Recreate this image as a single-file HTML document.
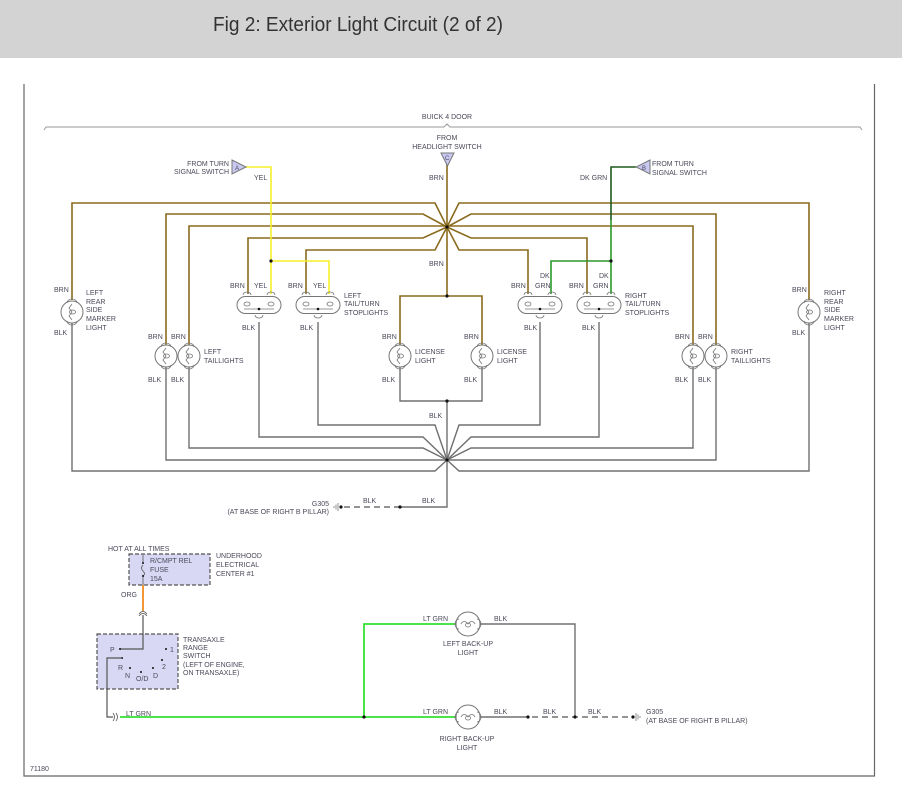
<!DOCTYPE html>
<html><head><meta charset="utf-8"><style>
html,body{margin:0;padding:0;background:#fff;width:902px;height:791px;overflow:hidden}
svg text{font-family:"Liberation Sans",sans-serif;font-size:7px;fill:#4a4a5a}
</style></head><body>
<svg width="902" height="791" viewBox="0 0 902 791" xmlns="http://www.w3.org/2000/svg">
<defs>
<g id="bulb">
<circle r="11" fill="#fff" stroke="#777" stroke-width="1"/>
<path d="M-5,-9 A5,4 0 0 1 5,-9 M-5,9 A5,4 0 0 0 5,9" fill="none" stroke="#777" stroke-width="0.8"/>
<path d="M0,-8 L-3,-4 L0,0 L-3,4 L0,8" fill="none" stroke="#777" stroke-width="0.8"/>
<ellipse cx="0.5" cy="0" rx="3" ry="2" fill="none" stroke="#777" stroke-width="0.8"/>
</g>
<g id="dual">
<rect x="-22" y="-8.5" width="44" height="17" rx="8.5" fill="#fff" stroke="#777" stroke-width="1"/>
<path d="M-16,-10 A4,3 0 0 1 -8,-10 M8,-10 A4,3 0 0 1 16,-10 M-4,10 A4,3 0 0 0 4,10" fill="none" stroke="#777" stroke-width="0.8"/>
<ellipse cx="-12" cy="-1" rx="3" ry="2" fill="none" stroke="#777" stroke-width="0.8"/>
<ellipse cx="12" cy="-1" rx="3" ry="2" fill="none" stroke="#777" stroke-width="0.8"/>
<path d="M-15,4 L15,4" stroke="#777" stroke-width="0.8"/>
<circle cx="0" cy="4" r="1.3" fill="#111"/>
</g>
<g id="hbulb">
<circle r="12" fill="#fff" stroke="#777" stroke-width="1"/>
<path d="M-9,-5 A4,5 0 0 0 -9,5 M9,-5 A4,5 0 0 1 9,5" fill="none" stroke="#777" stroke-width="0.8"/>
<path d="M-7,0 Q-4,-5 0,0 Q4,-5 7,0" fill="none" stroke="#777" stroke-width="0.8"/>
<ellipse cx="0" cy="1" rx="2.5" ry="2" fill="none" stroke="#777" stroke-width="0.8"/>
</g>
</defs>

<rect x="0" y="0" width="902" height="58" fill="#d3d3d3"/>
<text x="213" y="31" style="font-size:20px;fill:#333" textLength="290" lengthAdjust="spacingAndGlyphs">Fig 2: Exterior Light Circuit (2 of 2)</text>

<path d="M24,84 V776 H874.5 V84" fill="none" stroke="#666" stroke-width="1.2"/>
<path d="M44,130 L46,127 H444 L447,124 L450,127 H860 L862,130" fill="none" stroke="#999" stroke-width="1"/>
<text x="447" y="119" text-anchor="middle">BUICK 4 DOOR</text>

<g fill="none" stroke="#8a6a1e" stroke-width="1.6">
<path d="M447,164 V296"/>
<path d="M72,300 V203 H435 L447,227"/>
<path d="M166,345 V214 H423 L447,227"/>
<path d="M189,345 V226 H447"/>
<path d="M248,294 V238 H423 L447,227"/>
<path d="M306,294 V250 H435 L447,227"/>
<path d="M809,300 V203 H459 L447,227"/>
<path d="M716,345 V214 H471 L447,227"/>
<path d="M693,345 V226 H447"/>
<path d="M587,294 V238 H471 L447,227"/>
<path d="M528,294 V250 H459 L447,227"/>
<path d="M400,345 V296 H482 V345"/>
</g>
<path d="M246,167 H271 V294 M271,261 H329 V294" fill="none" stroke="#f5f02a" stroke-width="1.6"/>
<path d="M636,167 H611 V220" fill="none" stroke="#1d5a1d" stroke-width="1.6"/>
<path d="M611,220 V294 M611,261 H551 V294" fill="none" stroke="#2a9a2a" stroke-width="1.6"/>

<g fill="none" stroke="#707070" stroke-width="1.4">
<path d="M72,323 V471 H435 L447,460"/>
<path d="M166,367 V460 H447"/>
<path d="M189,367 V448 H423 L447,460"/>
<path d="M259,322 V437 H423 L447,460"/>
<path d="M318,322 V425 H435 L447,460"/>
<path d="M809,323 V471 H459 L447,460"/>
<path d="M716,367 V460 H447"/>
<path d="M693,367 V448 H471 L447,460"/>
<path d="M599,322 V437 H471 L447,460"/>
<path d="M540,322 V425 H459 L447,460"/>
<path d="M400,367 V401 H482 V367"/>
<path d="M447,401 V507 H400"/>
<path d="M400,507 H340" stroke-dasharray="6,4"/>
</g>
<g fill="#111">
<circle cx="447" cy="227" r="1.6"/><circle cx="447" cy="296" r="1.6"/><circle cx="271" cy="261" r="1.6"/><circle cx="611" cy="261" r="1.6"/>
<circle cx="447" cy="401" r="1.6"/><circle cx="447" cy="460" r="1.6"/><circle cx="400" cy="507" r="1.6"/><circle cx="341" cy="507" r="1.6"/>
</g>
<path d="M338,503 V511 M336,504.5 V509.5 M334,506 V508" stroke="#777" stroke-width="0.8"/>

<path d="M232,160 L246,167 L232,174 Z" fill="#c8c8f0" stroke="#777"/>
<text x="235" y="170" style="font-size:6px">A</text>
<path d="M441,153 L454,153 L447.5,166 Z" fill="#c8c8f0" stroke="#777"/>
<text x="445" y="160" style="font-size:6px">C</text>
<path d="M650,160 L636,167 L650,174 Z" fill="#c8c8f0" stroke="#777"/>
<text x="642" y="170" style="font-size:6px">B</text>

<use href="#bulb" x="72" y="312"/><use href="#bulb" x="809" y="312"/>
<use href="#bulb" x="166" y="356"/><use href="#bulb" x="189" y="356"/>
<use href="#bulb" x="693" y="356"/><use href="#bulb" x="716" y="356"/>
<use href="#bulb" x="400" y="356"/><use href="#bulb" x="482" y="356"/>
<use href="#dual" x="259" y="305"/><use href="#dual" x="318" y="305"/>
<use href="#dual" x="540" y="305"/><use href="#dual" x="599" y="305"/>

<text x="447" y="140" text-anchor="middle">FROM</text>
<text x="447" y="149" text-anchor="middle">HEADLIGHT SWITCH</text>
<text x="229" y="166" text-anchor="end">FROM TURN</text>
<text x="229" y="174" text-anchor="end">SIGNAL SWITCH</text>
<text x="254" y="180">YEL</text>
<text x="429" y="180">BRN</text>
<text x="429" y="266">BRN</text>
<text x="580" y="180">DK GRN</text>
<text x="652" y="166">FROM TURN</text>
<text x="652" y="175">SIGNAL SWITCH</text>

<text x="54" y="292">BRN</text><text x="54" y="335">BLK</text>
<text x="86" y="295">LEFT</text><text x="86" y="304">REAR</text><text x="86" y="312">SIDE</text><text x="86" y="321">MARKER</text><text x="86" y="330">LIGHT</text>
<text x="148" y="339">BRN</text><text x="171" y="339">BRN</text>
<text x="148" y="382">BLK</text><text x="171" y="382">BLK</text>
<text x="204" y="354">LEFT</text><text x="204" y="363">TAILLIGHTS</text>
<text x="230" y="288">BRN</text><text x="254" y="288">YEL</text>
<text x="288" y="288">BRN</text><text x="313" y="288">YEL</text>
<text x="242" y="330">BLK</text><text x="300" y="330">BLK</text>
<text x="344" y="298">LEFT</text><text x="344" y="306">TAIL/TURN</text><text x="344" y="315">STOPLIGHTS</text>
<text x="382" y="339">BRN</text><text x="382" y="382">BLK</text>
<text x="415" y="354">LICENSE</text><text x="415" y="363">LIGHT</text>
<text x="464" y="339">BRN</text><text x="464" y="382">BLK</text>
<text x="497" y="354">LICENSE</text><text x="497" y="363">LIGHT</text>
<text x="429" y="418">BLK</text>
<text x="511" y="288">BRN</text>
<text x="540" y="278">DK</text><text x="535" y="288">GRN</text>
<text x="569" y="288">BRN</text>
<text x="599" y="278">DK</text><text x="593" y="288">GRN</text>
<text x="524" y="330">BLK</text><text x="582" y="330">BLK</text>
<text x="625" y="298">RIGHT</text><text x="625" y="306">TAIL/TURN</text><text x="625" y="315">STOPLIGHTS</text>
<text x="675" y="339">BRN</text><text x="698" y="339">BRN</text>
<text x="675" y="382">BLK</text><text x="698" y="382">BLK</text>
<text x="731" y="354">RIGHT</text><text x="731" y="363">TAILLIGHTS</text>
<text x="792" y="292">BRN</text><text x="792" y="335">BLK</text>
<text x="824" y="295">RIGHT</text><text x="824" y="304">REAR</text><text x="824" y="312">SIDE</text><text x="824" y="321">MARKER</text><text x="824" y="330">LIGHT</text>

<text x="329" y="506" text-anchor="end">G305</text>
<text x="329" y="514" text-anchor="end">(AT BASE OF RIGHT B PILLAR)</text>
<text x="363" y="503">BLK</text><text x="422" y="503">BLK</text>

<text x="108" y="551">HOT AT ALL TIMES</text>
<rect x="129" y="554" width="81" height="31" fill="#d8d8f4" stroke="#555" stroke-width="1.2" stroke-dasharray="4,2"/>
<text x="150" y="563">R/CMPT REL</text><text x="150" y="572">FUSE</text><text x="150" y="581">15A</text>
<text x="216" y="558">UNDERHOOD</text><text x="216" y="567">ELECTRICAL</text><text x="216" y="576">CENTER #1</text>
<path d="M143,555 V563 M143,565 Q140,568 143,571 Q146,574 143,576 M143,576 V585" fill="none" stroke="#555" stroke-width="0.8"/>
<circle cx="143" cy="563" r="1" fill="#111"/><circle cx="143" cy="576" r="1" fill="#111"/>
<path d="M143,585 V611" stroke="#f08a20" stroke-width="1.8"/>
<text x="121" y="597">ORG</text>
<path d="M139,614 Q143,609 147,614 M139,616 Q143,611 147,616" fill="none" stroke="#555" stroke-width="0.8"/>
<rect x="97" y="634" width="81" height="55" fill="#d8d8f4" stroke="#555" stroke-width="1.2" stroke-dasharray="4,2"/>
<path d="M143,615 V649 H120" fill="none" stroke="#555" stroke-width="1.2"/>
<text x="110" y="652">P</text><text x="170" y="652">1</text>
<circle cx="120" cy="649" r="1" fill="#111"/><circle cx="166" cy="649" r="1" fill="#111"/>
<text x="118" y="670">R</text><text x="125" y="678">N</text><text x="136" y="681">O/D</text><text x="153" y="678">D</text><text x="162" y="669">2</text>
<circle cx="122" cy="658" r="1" fill="#111"/><circle cx="130" cy="668" r="1" fill="#111"/><circle cx="141" cy="672" r="1" fill="#111"/><circle cx="153" cy="668" r="1" fill="#111"/><circle cx="162" cy="660" r="1" fill="#111"/>
<text x="183" y="642">TRANSAXLE</text><text x="183" y="650">RANGE</text><text x="183" y="658">SWITCH</text><text x="183" y="667">(LEFT OF ENGINE,</text><text x="183" y="675">ON TRANSAXLE)</text>
<path d="M122,658 H107 V717 H113" fill="none" stroke="#555" stroke-width="1.2"/>
<path d="M113,713 Q116,717 113,721 M116,713 Q119,717 116,721" fill="none" stroke="#555" stroke-width="0.8"/>
<text x="126" y="716">LT GRN</text>
<path d="M120,717 H456 M364,717 V624 H456" fill="none" stroke="#33e033" stroke-width="1.8"/>
<circle cx="364" cy="717" r="1.6" fill="#111"/>
<path d="M480,624 H575 V717 M480,717 H522" fill="none" stroke="#707070" stroke-width="1.4"/>
<path d="M522,717 H632" fill="none" stroke="#707070" stroke-width="1.4" stroke-dasharray="6,4"/>
<circle cx="528" cy="717" r="1.6" fill="#111"/><circle cx="575" cy="717" r="1.6" fill="#111"/><circle cx="633" cy="717" r="1.6" fill="#111"/>
<path d="M636,713 V721 M638,714.5 V719.5 M640,716 V718" stroke="#777" stroke-width="0.8"/>
<use href="#hbulb" x="468" y="624"/><use href="#hbulb" x="468" y="717"/>
<text x="423" y="621">LT GRN</text><text x="494" y="621">BLK</text>
<text x="468" y="646" text-anchor="middle">LEFT BACK-UP</text><text x="468" y="655" text-anchor="middle">LIGHT</text>
<text x="423" y="714">LT GRN</text><text x="494" y="714">BLK</text><text x="543" y="714">BLK</text><text x="588" y="714">BLK</text>
<text x="467" y="741" text-anchor="middle">RIGHT BACK-UP</text><text x="467" y="750" text-anchor="middle">LIGHT</text>
<text x="646" y="714">G305</text><text x="646" y="723">(AT BASE OF RIGHT B PILLAR)</text>
<text x="30" y="771">71180</text>
</svg>
</body></html>
